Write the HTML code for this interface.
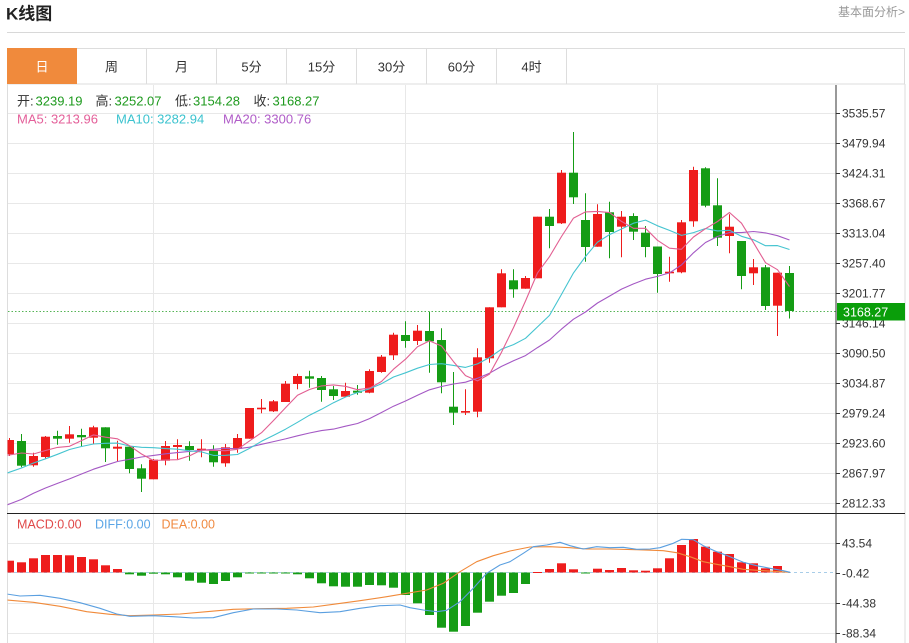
<!DOCTYPE html>
<html><head><meta charset="utf-8"><style>
html,body{margin:0;padding:0;background:#fff;}
svg{display:block;font-family:"Liberation Sans","Noto Sans CJK SC",sans-serif;}
</style></head><body>
<svg id="s" width="909" height="643" viewBox="0 0 909 643" xmlns="http://www.w3.org/2000/svg">
<defs>
<clipPath id="cm"><rect x="7.5" y="85" width="828.5" height="428"/></clipPath>
<clipPath id="cd"><rect x="7.5" y="514" width="828.5" height="129"/></clipPath>
</defs>
<!-- header -->
<text x="6" y="19.5" font-size="17" font-weight="bold" fill="#222">K线图</text>
<text x="905" y="16" font-size="12" fill="#999" text-anchor="end">基本面分析&gt;</text>
<line x1="7" y1="32.5" x2="905" y2="32.5" stroke="#d8d8d8"/>
<!-- tabs -->
<rect x="7.5" y="48.5" width="897" height="35.5" fill="#fff" stroke="#ddd"/>
<rect x="7" y="48" width="70" height="36" fill="#f08a3c"/>
<g stroke="#ddd">
<line x1="146.5" y1="48" x2="146.5" y2="84"/><line x1="216.5" y1="48" x2="216.5" y2="84"/>
<line x1="286.5" y1="48" x2="286.5" y2="84"/><line x1="356.5" y1="48" x2="356.5" y2="84"/>
<line x1="426.5" y1="48" x2="426.5" y2="84"/><line x1="496.5" y1="48" x2="496.5" y2="84"/>
<line x1="566.5" y1="48" x2="566.5" y2="84"/>
</g>
<g font-size="13" fill="#333" text-anchor="middle">
<text x="42" y="71.5" fill="#fff">日</text>
<text x="111.5" y="71.5">周</text>
<text x="181.5" y="71.5">月</text>
<text x="251.5" y="71.5">5分</text>
<text x="321.5" y="71.5">15分</text>
<text x="391.5" y="71.5">30分</text>
<text x="461.5" y="71.5">60分</text>
<text x="531.5" y="71.5">4时</text>
</g>
<!-- chart frame -->
<line x1="7.5" y1="84" x2="7.5" y2="643" stroke="#ddd"/>
<line x1="905" y1="84" x2="905" y2="643" stroke="#ddd"/>
<!-- grid -->
<g stroke="#e8e8e8">
<line x1="8" x2="836" y1="113.5" y2="113.5"/><line x1="8" x2="836" y1="143.5" y2="143.5"/>
<line x1="8" x2="836" y1="173.5" y2="173.5"/><line x1="8" x2="836" y1="203.5" y2="203.5"/>
<line x1="8" x2="836" y1="233.5" y2="233.5"/><line x1="8" x2="836" y1="263.5" y2="263.5"/>
<line x1="8" x2="836" y1="293.5" y2="293.5"/><line x1="8" x2="836" y1="323.5" y2="323.5"/>
<line x1="8" x2="836" y1="353.5" y2="353.5"/><line x1="8" x2="836" y1="383.5" y2="383.5"/>
<line x1="8" x2="836" y1="413.5" y2="413.5"/><line x1="8" x2="836" y1="443.5" y2="443.5"/>
<line x1="8" x2="836" y1="473.5" y2="473.5"/><line x1="8" x2="836" y1="503.5" y2="503.5"/>
<line x1="8" x2="836" y1="543.5" y2="543.5"/><line x1="8" x2="836" y1="603.5" y2="603.5"/>
<line x1="8" x2="836" y1="633.5" y2="633.5"/>
<line x1="153.5" x2="153.5" y1="85" y2="643"/><line x1="405.5" x2="405.5" y1="85" y2="643"/>
<line x1="657.5" x2="657.5" y1="85" y2="643"/>
</g>
<line x1="8" x2="836" y1="572.5" y2="572.5" stroke="#a8cde8" stroke-dasharray="3,3"/>
<!-- legends -->
<text font-size="13" y="105.5">
<tspan x="17" fill="#333">开:</tspan><tspan x="35.5" fill="#1e9a1e">3239.19</tspan>
<tspan x="95.5" fill="#333">高:</tspan><tspan x="114.5" fill="#1e9a1e">3252.07</tspan>
<tspan x="175" fill="#333">低:</tspan><tspan x="193" fill="#1e9a1e">3154.28</tspan>
<tspan x="253.5" fill="#333">收:</tspan><tspan x="272.5" fill="#1e9a1e">3168.27</tspan>
</text>
<text font-size="13" y="123.5">
<tspan x="17" fill="#e4609a">MA5: 3213.96</tspan>
<tspan x="116" fill="#3cc3cf">MA10: 3282.94</tspan>
<tspan x="223" fill="#b05cc8">MA20: 3300.76</tspan>
</text>
<text font-size="12.5" y="528.5">
<tspan x="17" fill="#e04848">MACD:0.00</tspan>
<tspan x="95" fill="#5aa5e6">DIFF:0.00</tspan>
<tspan x="161.5" fill="#f08a40">DEA:0.00</tspan>
</text>
<!-- price line -->
<line x1="8" x2="836" y1="311.5" y2="311.5" stroke="#55b455" stroke-dasharray="1.5,2"/>
<g id="pm" clip-path="url(#cm)"></g>
<g id="pd" clip-path="url(#cd)"></g>
<!-- divider & axis -->
<line x1="7" x2="905" y1="513.5" y2="513.5" stroke="#222"/>
<line x1="836" x2="836" y1="85" y2="643" stroke="#333"/>
<g stroke="#333">
<line x1="836" x2="840" y1="113.5" y2="113.5"/><line x1="836" x2="840" y1="143.5" y2="143.5"/>
<line x1="836" x2="840" y1="173.5" y2="173.5"/><line x1="836" x2="840" y1="203.5" y2="203.5"/>
<line x1="836" x2="840" y1="233.5" y2="233.5"/><line x1="836" x2="840" y1="263.5" y2="263.5"/>
<line x1="836" x2="840" y1="293.5" y2="293.5"/><line x1="836" x2="840" y1="323.5" y2="323.5"/>
<line x1="836" x2="840" y1="353.5" y2="353.5"/><line x1="836" x2="840" y1="383.5" y2="383.5"/>
<line x1="836" x2="840" y1="413.5" y2="413.5"/><line x1="836" x2="840" y1="443.5" y2="443.5"/>
<line x1="836" x2="840" y1="473.5" y2="473.5"/><line x1="836" x2="840" y1="503.5" y2="503.5"/>
<line x1="836" x2="840" y1="543.5" y2="543.5"/><line x1="836" x2="840" y1="573.5" y2="573.5"/>
<line x1="836" x2="840" y1="603.5" y2="603.5"/><line x1="836" x2="840" y1="633.5" y2="633.5"/>
</g>
<g font-size="12" fill="#333">
<text x="842" y="117.5">3535.57</text><text x="842" y="147.5">3479.94</text>
<text x="842" y="177.5">3424.31</text><text x="842" y="207.5">3368.67</text>
<text x="842" y="237.5">3313.04</text><text x="842" y="267.5">3257.40</text>
<text x="842" y="297.5">3201.77</text><text x="842" y="327.5">3146.14</text>
<text x="842" y="357.5">3090.50</text><text x="842" y="387.5">3034.87</text>
<text x="842" y="417.5">2979.24</text><text x="842" y="447.5">2923.60</text>
<text x="842" y="477.5">2867.97</text><text x="842" y="507.5">2812.33</text>
<text x="842" y="547.5">43.54</text><text x="842" y="577.5">-0.42</text>
<text x="842" y="607.5">-44.38</text><text x="842" y="637.5">-88.34</text>
</g>
<rect x="837" y="303" width="68" height="17.5" fill="#0a9e0a"/>
<text x="843" y="316.5" font-size="12.5" fill="#fff">3168.27</text>
</svg>
<script>
(function(){
var NS='http://www.w3.org/2000/svg';
var R='#ee1c1c',G='#159c15';
function el(t,a,p){var e=document.createElementNS(NS,t);for(var k in a)e.setAttribute(k,a[k]);p.appendChild(e);return e;}
var pm=document.getElementById('pm'),pd=document.getElementById('pd');
function X(i){return 9.5+12*i;}
var C=[
[440,454.3,438,456,'r'],[441,465.7,434,467.3,'g'],[456,465.3,452.7,466.7,'r'],[436.7,457,436,459,'r'],
[436,438.7,430.7,444.7,'g'],[434.3,438.7,426,442.7,'r'],[435,437.3,428.7,446.7,'g'],[427.3,437.7,425.7,444.3,'r'],
[427.3,448.3,427.3,462,'g'],[446.7,448.7,440.7,461,'r'],[446.7,469,446.7,473.3,'g'],[468.3,478.7,464.3,492,'g'],
[459.7,479.3,459,479.3,'r'],[446,460.7,441,465.3,'r'],[445,447,439.3,459.3,'r'],[446,450,441.3,460.7,'g'],
[448.7,450,439.3,457.3,'r'],[450.3,462.3,445.3,466.7,'g'],[447.3,463.3,444,466.7,'r'],[438,448.7,434,452.7,'r'],
[408,438.7,408,438.7,'r'],[407.7,409.3,399,413.3,'r'],[401.3,411.3,400,412,'r'],[383.7,402,381,402,'r'],
[376,384,373.7,389.3,'r'],[376.3,378.7,370.7,387.7,'g'],[378,390,376,401.7,'g'],[389.3,396,386,400,'g'],
[391,396.7,382.7,397.3,'r'],[390.7,392.7,385,394.7,'g'],[371,392.7,369.3,393.3,'r'],[356.7,372,355,372.7,'r'],
[334.7,355.3,332.7,360,'r'],[335,341,321.3,347.7,'g'],[330.7,341,325,345,'r'],[331,341.3,311.7,372.7,'g'],
[340,382.3,328.3,393.3,'g'],[406.7,412.7,372,425,'g'],[411,412.7,389.3,415,'r'],[357.3,411.7,348.3,417.3,'r'],
[307.3,358.3,307.3,362.7,'r'],[273.3,307.3,269.3,307.3,'r'],[280.3,289.3,269.3,297.7,'g'],[278,288.7,276,288.7,'r'],
[216.7,278.3,216.7,278.3,'r'],[216.7,226,209,248.3,'g'],[172.7,223.3,170,224,'r'],[172.7,197.3,132,204,'g'],
[220,247,193.3,261.7,'g'],[214,246.7,204.3,246.7,'r'],[212.3,232,201.7,258.3,'g'],[216.7,226.7,211,257.3,'r'],
[216,231.7,213.3,240,'g'],[232.7,247,226,257.3,'g'],[246.5,274,246.5,292.7,'g'],[271.7,273.3,256.7,281.7,'r'],
[222.3,272.3,220,273.3,'r'],[170,221.3,166.7,226.7,'r'],[168.3,205.7,167.3,207.3,'g'],[205.3,237.7,178.3,246,'g'],
[226.7,236,214.3,253.3,'r'],[241,276,241,289.3,'g'],[267.3,273.3,259,285,'r'],[267.3,306,265,310,'g'],
[272.7,305.7,272.7,336,'r'],[273,311,266,318.5,'g']];
C.forEach(function(c,i){var col=c[4]=='r'?R:G,x=X(i);
 el('line',{x1:x,x2:x,y1:c[2],y2:c[3],stroke:col,'stroke-width':1},pm);
 el('rect',{x:x-4.5,y:c[0],width:9,height:Math.max(1,c[1]-c[0]),fill:col},pm);
});
var cl=C.map(function(c){return c[4]=='r'?c[0]:c[1];});
function ma(n,pre,start){var p=[[-2.5,start]];for(var i=0;i<cl.length;i++){var v;if(i<n-1)v=pre[i];else{var s=0;for(var j=i-n+1;j<=i;j++)s+=cl[j];v=s/n;}p.push([X(i),v]);}return p;}
function pl(pts,col,par){el('polyline',{points:pts.map(function(p){return p[0].toFixed(1)+','+p[1].toFixed(1);}).join(' '),fill:'none',stroke:col,'stroke-width':1.1,'stroke-linejoin':'round'},par);}
pl(ma(20,[504,499.4,493.3,488,483.4,478.9,474,469.2,465.3,461.5,459.3,457,455.4,453.8,452.6,451.4,450.3,449.3,448.3],508.5),'#a458c4',pm);
pl(ma(10,[472.2,468,463,458.8,454.3,449.5,446.5,444,443.3],476.8),'#45c4d0',pm);
pl(ma(5,[455,453,454,450.5],456.5),'#e25f92',pm);
// MACD
var Z=572.5;
var M=[560.7,562.3,558.3,555,555,555.3,557,559.3,565.3,569,574.3,575.7,573.7,574.3,577.3,580.7,582.7,584,581,577.3,
573.5,573.5,573.2,573.2,574.3,578.3,583.3,586.3,586.7,586.7,585,585.3,587.7,595,603.3,615,627.7,631.7,626,612.7,
601.7,595.7,593,584,572,569,563.3,569.3,573.5,568.7,570,568,570.3,570.7,568.3,558.3,545,539,546.7,551.7,554,562.3,563.3,568.3,566];
M.forEach(function(v,i){var col=v<Z?R:G;var y=Math.min(v,Z),h=Math.max(1,Math.abs(v-Z));
 if(v>=Z){y=Z;}
 el('rect',{x:X(i)-4.5,y:y,width:9,height:h,fill:col},pd);});
var DIF=[[6.7,594],[20,596],[40,595.3],[60,598.3],[80,602.7],[100,608.3],[116.7,614],[130,616.3],[153.3,615.7],[173.3,616.7],[193.3,618],[213.3,617.7],[233.3,612.7],[253.3,609],[276.7,609],[296.7,610],[320,612.7],[340,611.7],[360,608.3],[380,605.7],[400,605],[410,607.7],[423.3,610],[436.7,611.7],[446.7,610.3],[460,601.7],[473.3,588.3],[486.7,573.3],[500,565],[510,561.7],[523.3,553.3],[533.3,546.7],[546.7,545],[560,542.3],[570,545.7],[583.3,549],[596.7,546.7],[610,547.7],[623.3,547.3],[636.7,549.3],[650,549],[660,547.7],[673.3,543.3],[681.7,539.3],[693.3,539.7],[703.3,545.7],[716.7,551.7],[730,556.7],[743.3,562.3],[756.7,565.7],[770,568.3],[783.3,570.7],[790,572.3]];
var DEA=[[6.7,600],[33.3,602.3],[60,606.3],[86.7,611.7],[110,614.3],[130,615.7],[153.3,615],[180,614],[206.7,611.7],[233.3,609.3],[260,608.7],[286.7,608.3],[313.3,607],[333.3,604.3],[360,600.7],[386.7,596.7],[406.7,593.3],[426.7,590],[443.3,583.3],[460,571.7],[476.7,561.7],[493.3,555.7],[510,551],[530,547],[550,546.7],[570,547.7],[586.7,549],[610,549],[636.7,549.7],[663.3,550.7],[676.7,552.7],[690,556.7],[703.3,561.7],[716.7,564.3],[730,566.7],[743.3,569.3],[763.3,570.7],[790,572.3]];
pl(DEA,'#f08a3a',pd);
pl(DIF,'#5a9fe0',pd);
})();
</script>
</body></html>
